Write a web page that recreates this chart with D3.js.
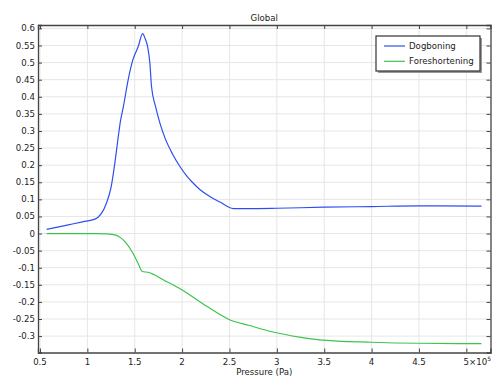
<!DOCTYPE html>
<html><head><meta charset="utf-8">
<script src="https://cdn.jsdelivr.net/npm/d3@7"></script>
<style>body{margin:0;background:#fff}svg{display:block;font-family:"DejaVu Sans",sans-serif}</style>
</head><body><svg id="c" width="498" height="378"></svg>
<script>
const pressureDog = [0.57,0.8,0.95,1.08,1.2,1.25,1.29,1.32,1.35,1.38,1.43,1.48,1.537,1.583,1.61,1.636,1.66,1.677,1.72,1.766,1.82,1.9,1.977,2.05,2.118,2.19,2.293,2.4,2.54,2.7,3,3.5,4,4.5,5.16];
const dogboning = [0.012,0.0255,0.0343,0.042,0.088,0.135,0.206,0.27,0.33,0.371,0.449,0.508,0.547,0.585,0.57,0.547,0.498,0.43,0.371,0.323,0.279,0.232,0.196,0.168,0.147,0.128,0.108,0.092,0.073,0.073,0.074,0.077,0.079,0.081,0.080];
const pressureFore = [0.57,1.1,1.2,1.29,1.35,1.41,1.48,1.535,1.58,1.65,1.7,1.8,2.0,2.26,2.5,2.71,2.96,3.24,3.45,4.0,4.5,5.16];
const foreshortening = [0,0,-0.001,-0.004,-0.012,-0.028,-0.057,-0.087,-0.111,-0.114,-0.12,-0.135,-0.165,-0.213,-0.252,-0.269,-0.288,-0.303,-0.311,-0.318,-0.321,-0.322];
const xTicks = [0.5,1,1.5,2,2.5,3,3.5,4,4.5,5];
const yTicks = [0.6,0.55,0.5,0.45,0.4,0.35,0.3,0.25,0.2,0.15,0.1,0.05,0,-0.05,-0.1,-0.15,-0.2,-0.25,-0.3];
const seriesNames = ["Dogboning","Foreshortening"];
const colors = ["#2e4ff0","#3cc44c"];

(function(){
const svg = d3.select("#c");
const L=38,T=25,R=490.5,B=352.5;
const x = d3.scaleLinear().domain([0.479,5.255]).range([L,R]);
const y = d3.scaleLinear().domain([-0.348,0.610]).range([B,T]);
const fs = 8.6;

const g = svg.append("g");
g.selectAll(".gx").data(xTicks).join("line").attr("x1",d=>x(d)).attr("x2",d=>x(d)).attr("y1",T).attr("y2",B).attr("stroke","#e6e6e6").attr("stroke-width",1);
g.selectAll(".gy").data(yTicks).join("line").attr("y1",d=>y(d)).attr("y2",d=>y(d)).attr("x1",L).attr("x2",R).attr("stroke","#e6e6e6").attr("stroke-width",1);

svg.append("clipPath").attr("id","cp").append("rect").attr("x",L).attr("y",T).attr("width",R-L).attr("height",B-T);
const line = d3.line().x(d=>x(d[0])).y(d=>y(d[1])).curve(d3.curveMonotoneX);
const dogData = pressureDog.map((p,i)=>[p,dogboning[i]]);
const foreData = pressureFore.map((p,i)=>[p,foreshortening[i]]);
svg.append("path").datum(dogData).attr("d",line).attr("fill","none").attr("stroke",colors[0]).attr("stroke-width",1.2).attr("clip-path","url(#cp)");
svg.append("path").datum(foreData).attr("d",line).attr("fill","none").attr("stroke",colors[1]).attr("stroke-width",1.2).attr("clip-path","url(#cp)");

const ax = svg.append("g");
const aBottom = d3.axisBottom(x).tickValues(xTicks).tickSize(-4).tickFormat("");
const aTop = d3.axisTop(x).tickValues(xTicks).tickSize(-4).tickFormat("");
const aLeft = d3.axisLeft(y).tickValues(yTicks).tickSize(-4).tickFormat("");
const aRight = d3.axisRight(y).tickValues(yTicks).tickSize(-4).tickFormat("");
[[aBottom,`translate(0,${B})`],[aTop,`translate(0,${T})`],[aLeft,`translate(${L},0)`],[aRight,`translate(${R},0)`]].forEach(([a,t])=>{
  const gg = ax.append("g").attr("transform",t).call(a);
  gg.select(".domain").attr("stroke","#444").attr("stroke-width",1.3);
  gg.selectAll(".tick line").attr("stroke","#444").attr("stroke-width",1);
});

const xl = svg.append("g").attr("font-size",fs).attr("fill","#222");
xTicks.forEach(v=>{
  if (v===5) {
    const t = xl.append("text").attr("x",x(v)-2.8).attr("y",364.5).attr("text-anchor","start").attr("fill","#222");
    t.append("tspan").text("5\u00d710");
    t.append("tspan").attr("dy",-4).attr("font-size",6).text("5");
  } else {
    xl.append("text").attr("x",x(v)).attr("y",364.5).attr("text-anchor","middle").attr("fill","#222").text(String(v));
  }
});
const yl = svg.append("g").attr("font-size",fs);
yTicks.forEach(v=>{
  yl.append("text").attr("x",35).attr("y",y(v)+3).attr("text-anchor","end").attr("fill","#222").text(String(v));
});

svg.append("text").attr("x",(L+R)/2).attr("y",21).attr("text-anchor","middle").attr("font-size",fs).attr("fill","#222").text("Global");
svg.append("text").attr("x",(L+R)/2).attr("y",374.5).attr("text-anchor","middle").attr("font-size",fs).attr("fill","#222").text("Pressure (Pa)");

const lg = svg.append("g");
lg.append("rect").attr("x",378).attr("y",38).attr("width",104).attr("height",35).attr("fill","#999");
lg.append("rect").attr("x",376).attr("y",36).attr("width",104).attr("height",35).attr("fill","#fff").attr("stroke","#333").attr("stroke-width",1.2);
seriesNames.forEach((n,i)=>{
  const yy = 46 + i*15.3;
  lg.append("line").attr("x1",384).attr("x2",405).attr("y1",yy).attr("y2",yy).attr("stroke",colors[i]).attr("stroke-width",1.2);
  lg.append("text").attr("x",409).attr("y",yy+3).attr("font-size",fs).attr("fill","#222").text(n);
});
})();
</script></body></html>
